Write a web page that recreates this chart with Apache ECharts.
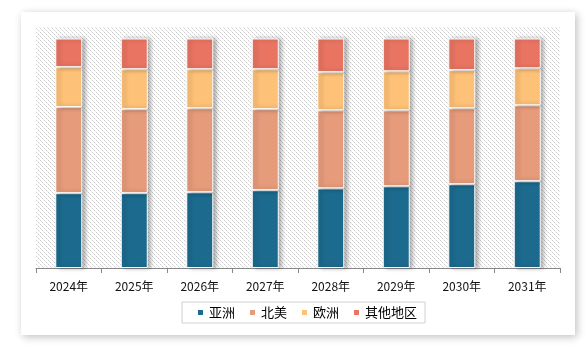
<!DOCTYPE html>
<html>
<head>
<meta charset="utf-8">
<script src="https://cdn.jsdelivr.net/npm/echarts@6/dist/echarts.min.js"></script>
<style>
  html, body { margin: 0; padding: 0; background: #fff; }
  #chart { width: 588px; height: 351px; }
</style>
</head>
<body>
<div id="chart"></div>
<script>
// 연도별 지역 비중 (%)
const years = ['2024年', '2025年', '2026年', '2027年', '2028年', '2029年', '2030年', '2031年'];
const asia = [32.6, 32.6, 33.0, 33.9, 34.7, 35.6, 36.5, 37.8];
const northAmerica = [37.5, 36.6, 36.6, 35.3, 34.0, 33.1, 33.1, 33.1];
const europe = [17.4, 17.4, 17.0, 17.4, 16.6, 17.0, 16.6, 16.1];
const others = [12.5, 13.4, 13.4, 13.4, 14.7, 14.3, 13.8, 13.0];

const seriesNames = ['亚洲', '北美', '欧洲', '其他地区'];
const seriesColors = ['#1c6b8e', '#e69b7b', '#fdc177', '#e97462'];

// 사선 해칭 배경 (점선 느낌)
function makeHatch() {
  const c = document.createElement('canvas');
  c.width = 4;
  c.height = 4;
  const ctx = c.getContext('2d');
  ctx.fillStyle = '#ffffff';
  ctx.fillRect(0, 0, 4, 4);
  ctx.fillStyle = '#cdcdcd';
  ctx.fillRect(0, 0, 1, 1);
  ctx.fillRect(2, 2, 1, 1);
  ctx.fillStyle = '#e6e6e6';
  ctx.fillRect(1, 1, 1, 1);
  ctx.fillRect(3, 3, 1, 1);
  return c;
}

const chart = echarts.init(document.getElementById('chart'));

const dataSets = [asia, northAmerica, europe, others];

const option = {
  backgroundColor: '#fff',
  animation: false,
  textStyle: { fontFamily: '"Noto Sans CJK SC", sans-serif' },
  graphic: [
    {
      type: 'rect',
      z: -10,
      shape: { x: 21, y: 12, width: 554, height: 323 },
      style: {
        fill: '#fff',
        shadowColor: 'rgba(0,0,0,0.25)',
        shadowBlur: 8,
        shadowOffsetX: 2,
        shadowOffsetY: 2
      }
    },
    {
      type: 'rect',
      z: -5,
      shape: { x: 36, y: 27, width: 524, height: 241 },
      style: { fill: { image: makeHatch(), repeat: 'repeat' } }
    }
  ],
  grid: {
    left: 36,
    right: 28,
    top: 27,
    bottom: 83
  },
  legend: {
    data: seriesNames,
    top: 302,
    left: 182,
    itemWidth: 7,
    itemHeight: 7,
    itemGap: 13,
    borderColor: '#d0d0d0',
    borderWidth: 1,
    padding: [4, 8, 4, 14],
    textStyle: { fontSize: 13, color: '#000' },
    icon: 'rect'
  },
  xAxis: {
    type: 'category',
    data: years,
    axisLine: { lineStyle: { color: '#888', width: 1 } },
    axisTick: { show: true, length: 5, lineStyle: { color: '#888' } },
    axisLabel: { color: '#111', fontSize: 12, margin: 12 }
  },
  yAxis: {
    type: 'value',
    min: 0,
    max: 105,
    show: false,
    splitLine: { show: false }
  },
  series: seriesNames.map((name, i) => ({
    name: name,
    type: 'bar',
    stack: 'total',
    barWidth: 27,
    data: dataSets[i],
    itemStyle: {
      color: seriesColors[i],
      borderColor: '#fff',
      borderWidth: 1,
      shadowColor: 'rgba(0,0,0,0.3)',
      shadowBlur: 4,
      shadowOffsetX: 3,
      shadowOffsetY: 0
    }
  }))
};

chart.setOption(option);
</script>
</body>
</html>
